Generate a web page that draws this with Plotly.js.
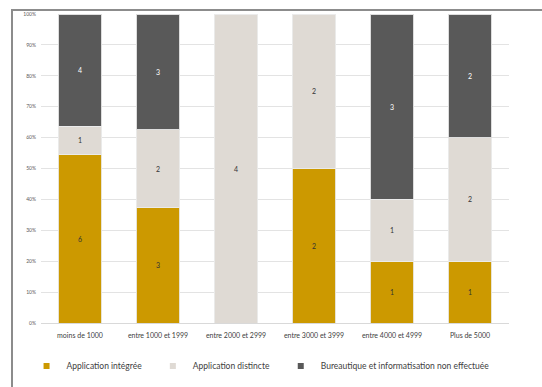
<!DOCTYPE html>
<html>
<head>
<meta charset="utf-8">
<script src="https://cdn.plot.ly/plotly-3.0.1.min.js"></script>
<style>
html,body{margin:0;padding:0;background:#fff;}
#wrap{position:relative;width:542px;height:387px;overflow:hidden;}
#chart{position:absolute;left:0;top:0;width:542px;height:387px;}
#frame{position:absolute;left:11px;top:9px;width:540px;height:400px;border-top:2px solid #8c8c8c;border-left:2px solid #8c8c8c;pointer-events:none;}
</style>
</head>
<body>
<div id="wrap"><div id="chart"></div><div id="frame"></div></div>
<script>
const categories = ["moins de 1000", "entre 1000 et 1999", "entre 2000 et 2999", "entre 3000 et 3999", "entre 4000 et 4999", "Plus de 5000"];
const seriesNames = ["Application intégrée", "Application distincte", "Bureautique et informatisation non effectuée"];
const appIntegree = [6, 3, 0, 2, 1, 1];
const appDistincte = [1, 2, 4, 2, 1, 2];
const nonEffectuee = [4, 3, 0, 0, 3, 2];
const colors = ["#CC9900", "#DFDAD4", "#595959"];
const textColors = ["#333333", "#333333", "#ffffff"];
const yTicks = [0,10,20,30,40,50,60,70,80,90,100];

const series = [appIntegree, appDistincte, nonEffectuee];
const font = "Lato, 'Open Sans', sans-serif";
const legendIds = ["legend", "legend2", "legend3"];
const legendX = [0.049, 0.282, 0.518];
const traces = [];
series.forEach((vals, i) => {
  traces.push({
    type: "bar",
    name: seriesNames[i],
    x: categories,
    y: vals,
    text: vals.map(v => v === 0 ? "" : String(v)),
    textposition: "inside",
    insidetextanchor: "middle",
    textangle: 0,
    constraintext: "none",
    textfont: {family: font, size: 7, color: textColors[i]},
    marker: {color: colors[i], line: {color: "rgba(235,235,235,0.9)", width: 1}},
    hoverinfo: "skip",
    showlegend: false
  });
});
series.forEach((vals, i) => {
  traces.push({
    type: "scatter",
    mode: "markers",
    name: seriesNames[i],
    x: [null], y: [null],
    marker: {symbol: "square", size: 6, color: colors[i]},
    showlegend: true,
    legend: legendIds[i],
    hoverinfo: "skip"
  });
});

const layout = {
  width: 542, height: 387,
  margin: {l: 41, r: 33, t: 14, b: 64},
  paper_bgcolor: "#ffffff",
  plot_bgcolor: "#ffffff",
  barmode: "stack",
  barnorm: "percent",
  bargap: 0.44,
  font: {family: font, color: "#404040"},
  xaxis: {
    type: "category",
    tickfont: {family: font, size: 7, color: "#404040"},
    showgrid: false,
    showline: true,
    linecolor: "#d9d9d9",
    linewidth: 1,
    ticks: "",
    ticklabelstandoff: 6,
    fixedrange: true
  },
  yaxis: {
    range: [0, 100],
    tickvals: yTicks,
    ticktext: yTicks.map(t => t + "%"),
    tickfont: {family: font, size: 5, color: "#595959"},
    showgrid: true,
    gridcolor: "#e3e3e3",
    gridwidth: 1,
    zeroline: false,
    showline: false,
    ticks: "",
    ticklabelstandoff: 4,
    fixedrange: true
  },
  showlegend: true
};
legendIds.forEach((id, i) => {
  layout[id] = {
    orientation: "h",
    xref: "container",
    x: legendX[i], xanchor: "left",
    yref: "container",
    y: 0.054, yanchor: "middle",
    font: {family: font, size: 8.5, color: "#404040"},
    itemwidth: 30,
    bgcolor: "rgba(0,0,0,0)"
  };
});

Plotly.newPlot("chart", traces, layout, {displayModeBar: false, staticPlot: true});
</script>
</body>
</html>
